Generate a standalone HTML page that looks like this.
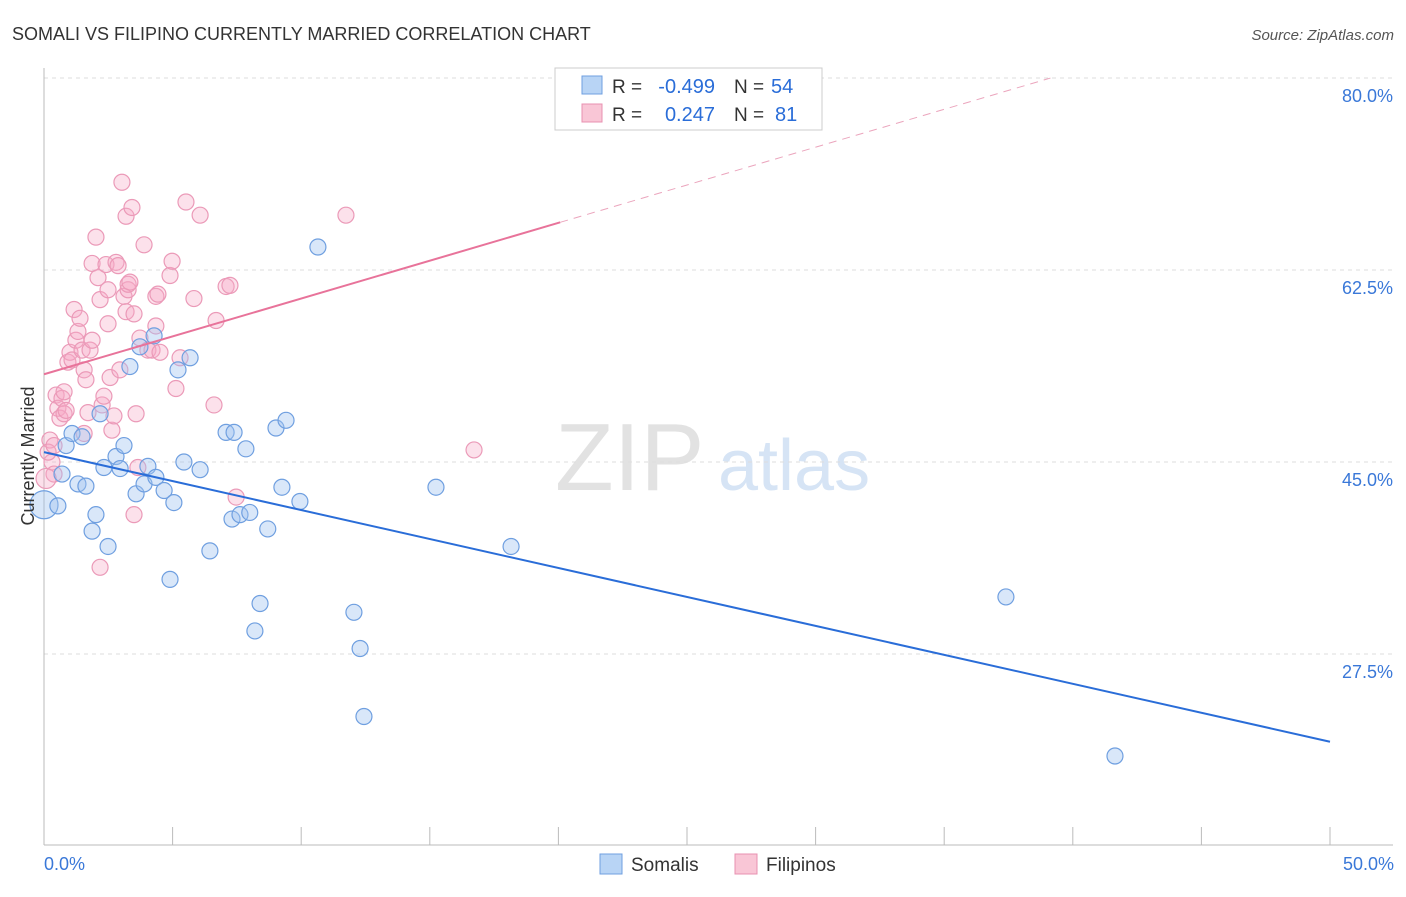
<!DOCTYPE html>
<html><head><meta charset="utf-8"><style>
body{margin:0;background:#fff;font-family:"Liberation Sans",sans-serif}
svg text{font-family:"Liberation Sans",sans-serif}
</style></head><body>
<svg id="chart" width="1406" height="892" xmlns="http://www.w3.org/2000/svg">
<text x="12" y="40" font-size="18" fill="#333">SOMALI VS FILIPINO CURRENTLY MARRIED CORRELATION CHART</text>
<text x="1394" y="40" font-size="15" fill="#555" font-style="italic" text-anchor="end">Source: ZipAtlas.com</text>
<text x="555" y="490" font-size="96" fill="#e2e2e2" font-family="Liberation Serif">ZIP</text>
<text x="718" y="490" font-size="72" fill="#d6e4f5">atlas</text>
<g id="grid"></g>
<g id="axes"></g>
<g id="pts"></g>
<g id="trend"></g>
<text transform="translate(34,456) rotate(-90)" font-size="18" fill="#333" text-anchor="middle">Currently Married</text>
<g>
<rect x="555" y="68" width="267" height="62" fill="#fff" stroke="#ccc"/>
<rect x="582" y="76" width="20" height="18" fill="#b8d4f5" stroke="#6f9fe0"/>
<rect x="582" y="104" width="20" height="18" fill="#f9c6d6" stroke="#e890b0"/>
<text x="612" y="93" font-size="19" fill="#333">R =</text>
<text x="715" y="93" font-size="20" fill="#2a6dd8" text-anchor="end">-0.499</text>
<text x="734" y="93" font-size="19" fill="#333">N =</text>
<text x="771" y="93" font-size="20" fill="#2a6dd8">54</text>
<text x="612" y="121" font-size="19" fill="#333">R =</text>
<text x="715" y="121" font-size="20" fill="#2a6dd8" text-anchor="end">0.247</text>
<text x="734" y="121" font-size="19" fill="#333">N =</text>
<text x="775" y="121" font-size="20" fill="#2a6dd8">81</text>
</g>
<g>
<rect x="600" y="854" width="22" height="20" fill="#b8d4f5" stroke="#6f9fe0"/>
<text x="631" y="871" font-size="19" fill="#333">Somalis</text>
<rect x="735" y="854" width="22" height="20" fill="#f9c6d6" stroke="#e890b0"/>
<text x="766" y="871" font-size="19" fill="#333">Filipinos</text>
</g>
</svg>
<script>
const yTicks=[80,62.5,45,27.5];
const yTickLabels=["80.0%","62.5%","45.0%","27.5%"];
const xTickLabels=["0.0%","50.0%"];
const blueX=[0,0.54,0.7,0.86,1.09,1.32,1.48,1.63,1.87,2.02,2.18,2.33,2.49,2.8,2.96,3.11,3.34,3.58,3.73,3.89,4.04,4.28,4.35,4.67,4.9,5.05,5.21,5.44,5.68,6.07,6.45,7.08,7.31,7.39,7.62,7.85,8.0,8.2,8.4,8.7,9.02,9.25,9.41,9.95,10.65,12.05,12.29,12.44,15.24,18.16,37.4,41.64];
const blueY=[41.1,41.0,43.9,46.5,47.6,43.0,47.3,42.8,38.7,40.2,49.4,44.5,37.3,45.5,44.4,46.5,53.7,42.1,55.5,43.0,44.6,56.5,43.6,42.4,34.3,41.3,53.4,45.0,54.5,44.3,36.9,47.7,39.8,47.7,40.2,46.2,40.4,29.6,32.1,38.9,48.1,42.7,48.8,41.4,64.6,31.3,28.0,21.8,42.7,37.3,32.7,18.2];
const pinkX=[0.23,0.31,0.39,0.47,0.54,0.62,0.7,0.78,0.86,0.93,1.01,1.09,1.17,1.24,1.32,1.4,1.48,1.56,1.56,1.63,1.71,1.79,1.87,1.87,2.02,2.1,2.18,2.26,2.33,2.41,2.49,2.49,2.57,2.64,2.72,2.8,2.88,2.95,3.03,3.11,3.19,3.19,3.27,3.27,3.34,3.42,3.5,3.58,3.5,2.18,3.65,3.73,3.89,4.04,4.2,4.35,4.35,4.43,4.51,4.9,4.98,5.13,5.29,5.52,5.83,6.07,6.61,6.69,7.08,7.23,7.47,11.74,16.72,0.08,0.16,0.39,0.78];
const pinkY=[47.0,45.0,43.9,51.1,49.9,49.0,50.8,49.4,49.7,54.1,55.0,54.3,58.9,56.1,56.9,58.1,55.2,47.6,53.4,52.5,49.5,55.2,56.1,63.1,65.5,61.8,59.8,50.2,51.0,63.0,60.7,57.6,52.7,47.9,49.2,63.2,62.9,53.4,70.5,60.1,67.4,58.7,60.7,61.2,61.4,68.2,58.5,49.4,40.2,35.4,44.5,56.3,64.8,55.2,55.2,57.4,60.1,60.3,55.0,62.0,63.3,51.7,54.5,68.7,59.9,67.5,50.2,57.9,61.0,61.1,41.8,67.5,46.1,43.5,45.9,46.5,51.4];
const blueTrend=[45.9,19.5];
const pinkTrend=[53.0,0.69];
const X=v=>44+v*25.72, Y=v=>462-(v-45)*10.97;
const NS="http://www.w3.org/2000/svg";
function mk(parent,tag,attrs){const e=document.createElementNS(NS,tag);for(const k in attrs)e.setAttribute(k,attrs[k]);document.getElementById(parent).appendChild(e);return e;}
yTicks.forEach((t,i)=>{
 const l=mk('grid','line',{x1:44,x2:1393,y1:Y(t),y2:Y(t),stroke:'#ddd','stroke-dasharray':'4,4'});
 
 
 const tx=mk('grid','text',{x:1393,y:Y(t)+24,'font-size':18,fill:'#3a78d8','text-anchor':'end'});
 tx.textContent=yTickLabels[i];
 
 
});
mk('axes','line',{x1:44,x2:44,y1:68,y2:845,stroke:'#bbb'});
mk('axes','line',{x1:44,x2:1393,y1:845,y2:845,stroke:'#bbb'});
for(let i=0;i<=10;i++){const t=mk('axes','line',{x1:X(i*5),x2:X(i*5),y1:827,y2:845,stroke:'#bbb'});
 
 }
const xl0=mk('axes','text',{x:44,y:870,'font-size':18,fill:'#3a78d8'});xl0.textContent=xTickLabels[0];


const xl1=mk('axes','text',{x:1394,y:870,'font-size':18,fill:'#3a78d8','text-anchor':'end'});xl1.textContent=xTickLabels[1];


pinkX.forEach((x,i)=>{const c=mk('pts','circle',{cx:X(x),cy:Y(pinkY[i]),r:i==pinkX.length-4?10:8,fill:'rgba(245,170,198,0.35)',stroke:'#eb9ab8','stroke-width':1.2});
 
 });
blueX.forEach((x,i)=>{const c=mk('pts','circle',{cx:X(x),cy:Y(blueY[i]),r:i==0?14:8,fill:'rgba(160,196,240,0.4)',stroke:'#6f9fe0','stroke-width':1.2});
 
 });
const bl=mk('trend','line',{x1:X(0),y1:Y(blueTrend[0]),x2:X(50),y2:Y(blueTrend[1]),stroke:'#2a6dd8','stroke-width':2});


const pl=mk('trend','line',{x1:X(0),y1:Y(pinkTrend[0]),x2:X(20.07),y2:Y(pinkTrend[0]+pinkTrend[1]*20.07),stroke:'#e8739a','stroke-width':2});


const xe=(80-pinkTrend[0])/pinkTrend[1];
const pd=mk('trend','line',{x1:X(20.07),y1:Y(pinkTrend[0]+pinkTrend[1]*20.07),x2:X(xe),y2:Y(80),stroke:'#eba5bd','stroke-width':1,'stroke-dasharray':'8,6'});


</script>
</body></html>
